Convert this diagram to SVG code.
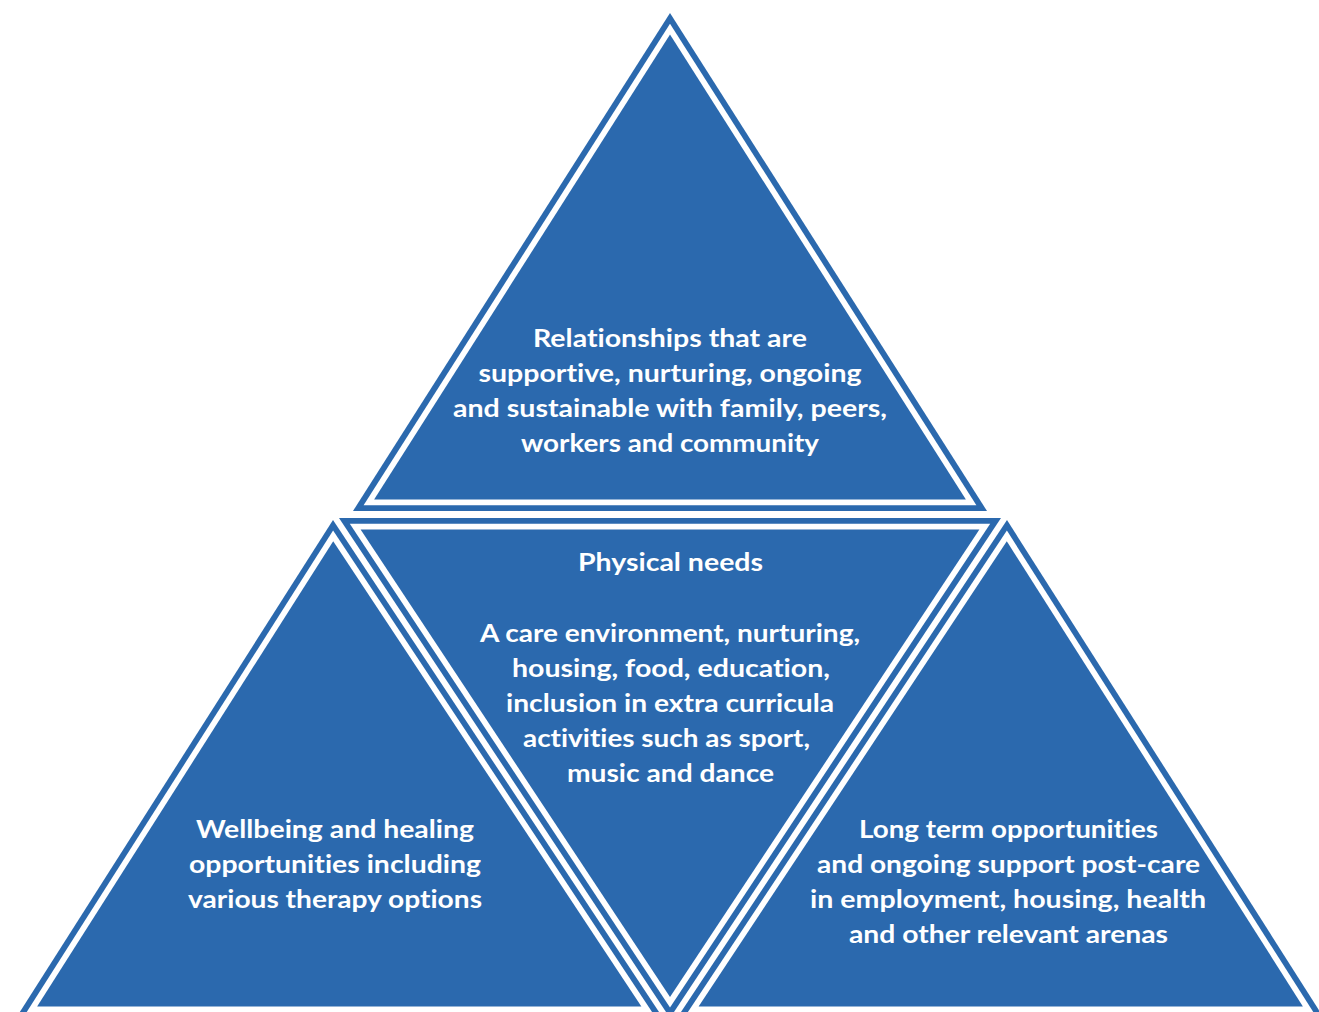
<svg xmlns="http://www.w3.org/2000/svg" width="1319" height="1012" viewBox="0 0 1319 1012">
<style>
.band{fill:#2b69ae}
.gap{fill:#ffffff}
.core{fill:#2b69ae}
.lbl{font-family:Lato,"Open Sans","Liberation Sans",sans-serif;font-weight:700;font-size:25px;fill:#ffffff;text-anchor:middle;font-variant-ligatures:none;font-feature-settings:"liga" 0,"clig" 0}
</style>
<rect x="0" y="0" width="1319" height="1012" fill="#ffffff"/>
<g id="connectors"></g>
<g id="top">
<polygon class="band" points="670,13 353,511 987,511"/>
<polygon class="gap" points="670,23.8 363.6,505.2 976.4,505.2"/>
<polygon class="core" points="670,34.6 374.1,499.4 965.9,499.4"/>
<text class="lbl" x="670" y="347" textLength="274" lengthAdjust="spacingAndGlyphs">Relationships that are</text>
<text class="lbl" x="670" y="382" textLength="383" lengthAdjust="spacingAndGlyphs">supportive, nurturing, ongoing</text>
<text class="lbl" x="670" y="417" textLength="434" lengthAdjust="spacingAndGlyphs">and sustainable with family, peers,</text>
<text class="lbl" x="670" y="452" textLength="298" lengthAdjust="spacingAndGlyphs">workers and community</text>
</g>
<g id="middle">
<polygon class="band" points="339,518 1001,518 670,1018"/>
<polygon class="gap" points="349.8,523.8 990.2,523.8 670,1007.5"/>
<polygon class="core" points="360.6,529.6 979.4,529.6 670,997"/>
<text class="lbl" x="670.5" y="571" textLength="185" lengthAdjust="spacingAndGlyphs">Physical needs</text>
<text class="lbl" x="670" y="642" textLength="380" lengthAdjust="spacingAndGlyphs">A care environment, nurturing,</text>
<text class="lbl" x="671" y="677" textLength="318" lengthAdjust="spacingAndGlyphs">housing, food, education,</text>
<text class="lbl" x="670" y="712" textLength="328" lengthAdjust="spacingAndGlyphs">inclusion in extra curricula</text>
<text class="lbl" x="666.5" y="747" textLength="287" lengthAdjust="spacingAndGlyphs">activities such as sport,</text>
<text class="lbl" x="670.5" y="782" textLength="207" lengthAdjust="spacingAndGlyphs">music and dance</text>
</g>
<g id="left">
<polygon class="band" points="333,520 16,1018 663,1018"/>
<polygon class="gap" points="333.1,530.6 26.6,1012.2 652.2,1012.2"/>
<polygon class="core" points="333.2,541.3 37.1,1006.4 641.4,1006.4"/>
<text class="lbl" x="335" y="838" textLength="278" lengthAdjust="spacingAndGlyphs">Wellbeing and healing</text>
<text class="lbl" x="335" y="873" textLength="292" lengthAdjust="spacingAndGlyphs">opportunities including</text>
<text class="lbl" x="335" y="908" textLength="294" lengthAdjust="spacingAndGlyphs">various therapy options</text>
</g>
<g id="right">
<polygon class="band" points="1007,520 1324,1018 677,1018"/>
<polygon class="gap" points="1006.9,530.6 1313.4,1012.2 687.8,1012.2"/>
<polygon class="core" points="1006.8,541.3 1302.9,1006.4 698.6,1006.4"/>
<text class="lbl" x="1008.5" y="838" textLength="299" lengthAdjust="spacingAndGlyphs">Long term opportunities</text>
<text class="lbl" x="1008.5" y="873" textLength="383" lengthAdjust="spacingAndGlyphs">and ongoing support post-care</text>
<text class="lbl" x="1008" y="908" textLength="396" lengthAdjust="spacingAndGlyphs">in employment, housing, health</text>
<text class="lbl" x="1008.5" y="943" textLength="319" lengthAdjust="spacingAndGlyphs">and other relevant arenas</text>
</g>
</svg>
